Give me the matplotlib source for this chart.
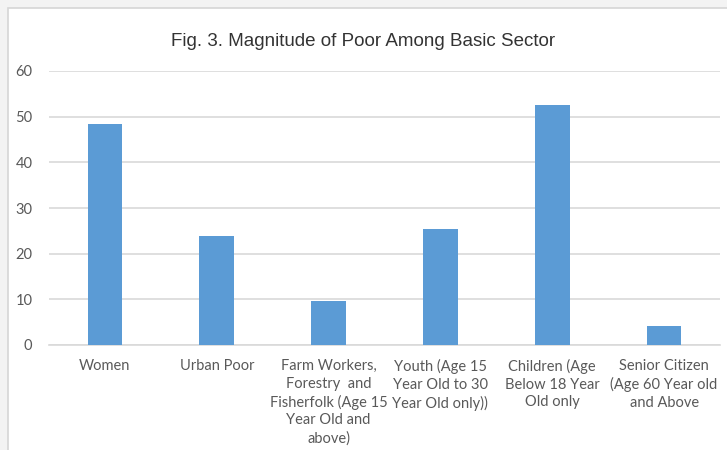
import matplotlib.pyplot as plt
from matplotlib.patches import Rectangle

# values per basic sector (%)
sectors = [
    "Women",
    "Urban Poor",
    "Farm Workers,\nForestry  and\nFisherfolk (Age 15\nYear Old and\nabove)",
    "Youth (Age 15\nYear Old to 30\nYear Old only))",
    "Children (Age\nBelow 18 Year\nOld only",
    "Senior Citizen\n(Age 60 Year old\nand Above",
]
magnitude = [48.4, 23.8, 9.7, 25.5, 52.6, 4.2]
y_ticks = [0, 10, 20, 30, 40, 50, 60]

bar_color = "#5b9bd5"
grid_color = "#d9d9d9"
text_color = "#595959"

fig = plt.figure(figsize=(7.27, 4.5), dpi=100)
fig.patch.set_facecolor("#f3f3f3")

# white chart area with a thin border, running off the right and bottom edges
fig.patches.append(Rectangle((8 / 727, -0.05), 1.1, 1 - 8 / 450 + 0.05,
                             transform=fig.transFigure, facecolor="white",
                             edgecolor="#d6d6d6", linewidth=1.2, zorder=-10))

ax = fig.add_axes([49 / 727, 105 / 450, 671 / 727, 274 / 450])
ax.set_facecolor("none")

x = range(len(sectors))
ax.bar(x, magnitude, width=0.31, color=bar_color, zorder=3)

ax.set_xlim(-0.5, len(sectors) - 0.5)
ax.set_ylim(0, 60)
ax.set_yticks(y_ticks)
ax.set_xticks(list(x))
ax.set_xticklabels(sectors, fontsize=10.5, color=text_color, family="Lato",
                   linespacing=1.33, va="top")
ax.tick_params(axis="y", labelsize=10.5, labelcolor=text_color, length=0, pad=12)
ax.tick_params(axis="x", length=0, pad=10)
for lbl in ax.get_yticklabels():
    lbl.set_family("Lato")

ax.yaxis.grid(True, color=grid_color, linewidth=1.2, zorder=0)
for side in ["top", "right", "left"]:
    ax.spines[side].set_visible(False)
ax.spines["bottom"].set_color(grid_color)
ax.spines["bottom"].set_linewidth(1.2)

fig.text(363 / 727, 1 - 42 / 450, "Fig. 3. Magnitude of Poor Among Basic Sector",
         ha="center", va="center", fontsize=13.5, color="#333333",
         family="Liberation Sans")

fig.savefig("out.png", dpi=100, facecolor=fig.get_facecolor())
